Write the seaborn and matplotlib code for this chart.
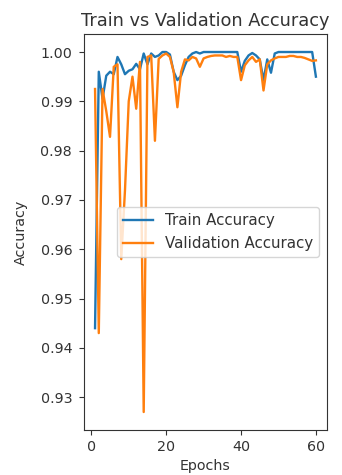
import matplotlib
matplotlib.use("Agg")
import matplotlib.pyplot as plt
import seaborn as sns
import pandas as pd

epochs = list(range(1, 61))

train_acc = [
    0.9440, 0.9960, 0.9905, 0.9952, 0.9960, 0.9955, 0.9990, 0.9975, 0.9955, 0.9962,
    0.9965, 0.9976, 0.9965, 0.9997, 0.9975, 0.9997, 0.9990, 0.9993, 1.0000, 1.0000,
    0.9995, 0.9960, 0.9943, 0.9952, 0.9973, 0.9990, 0.9997, 1.0000, 0.9997, 1.0000,
    1.0000, 1.0000, 1.0000, 1.0000, 1.0000, 1.0000, 1.0000, 1.0000, 1.0000, 0.9960,
    0.9982, 0.9993, 0.9998, 0.9993, 0.9985, 0.9943, 0.9985, 0.9958, 0.9997, 1.0000,
    1.0000, 1.0000, 1.0000, 1.0000, 1.0000, 1.0000, 1.0000, 1.0000, 1.0000, 0.9950,
]

val_acc = [
    0.9925, 0.9430, 0.9925, 0.9880, 0.9828, 0.9970, 0.9975, 0.9580, 0.9720, 0.9900,
    0.9950, 0.9885, 0.9980, 0.9270, 0.9990, 0.9993, 0.9820, 0.9986, 0.9993, 0.9997,
    0.9990, 0.9960, 0.9888, 0.9960, 0.9985, 0.9983, 0.9990, 0.9987, 0.9970, 0.9987,
    0.9990, 0.9992, 0.9993, 0.9993, 0.9993, 0.9990, 0.9992, 0.9990, 0.9990, 0.9943,
    0.9973, 0.9983, 0.9990, 0.9980, 0.9985, 0.9922, 0.9975, 0.9983, 0.9987, 0.9990,
    0.9990, 0.9990, 0.9992, 0.9992, 0.9990, 0.9990, 0.9988, 0.9985, 0.9982, 0.9983,
]

series_names = ["Train Accuracy", "Validation Accuracy"]

df = pd.DataFrame({
    "Epochs": epochs * 2,
    "Accuracy": train_acc + val_acc,
    "Series": [series_names[0]] * len(epochs) + [series_names[1]] * len(epochs),
})

plt.rcParams["font.family"] = ["DejaVu Sans"]
plt.rcParams["font.size"] = 10.3
plt.rcParams["axes.edgecolor"] = "#333333"
plt.rcParams["text.color"] = "#333333"
plt.rcParams["axes.labelcolor"] = "#333333"
plt.rcParams["xtick.color"] = "#333333"
plt.rcParams["ytick.color"] = "#333333"

fig = plt.figure(figsize=(3.42, 4.75), dpi=100)
ax = fig.add_axes([0.2456, 0.0947, 0.956 - 0.2456, 0.9284 - 0.0947])

sns.lineplot(
    data=df, x="Epochs", y="Accuracy", hue="Series",
    palette=["#1f77b4", "#ff7f0e"], linewidth=1.7, ax=ax,
)

ax.set_title("Train vs Validation Accuracy", fontsize=12.8, pad=6)
ax.set_xlabel("Epochs", labelpad=4)
ax.set_ylabel("Accuracy", labelpad=9)
ax.set_xticks([0, 20, 40, 60])
ax.set_yticks([0.93, 0.94, 0.95, 0.96, 0.97, 0.98, 0.99, 1.00])
ax.yaxis.set_major_formatter(matplotlib.ticker.FormatStrFormatter("%.2f"))
ax.tick_params(axis="y", pad=5)
ax.legend(loc="center right", title=None, fontsize=10.8)

fig.savefig("out.png", dpi=100)
